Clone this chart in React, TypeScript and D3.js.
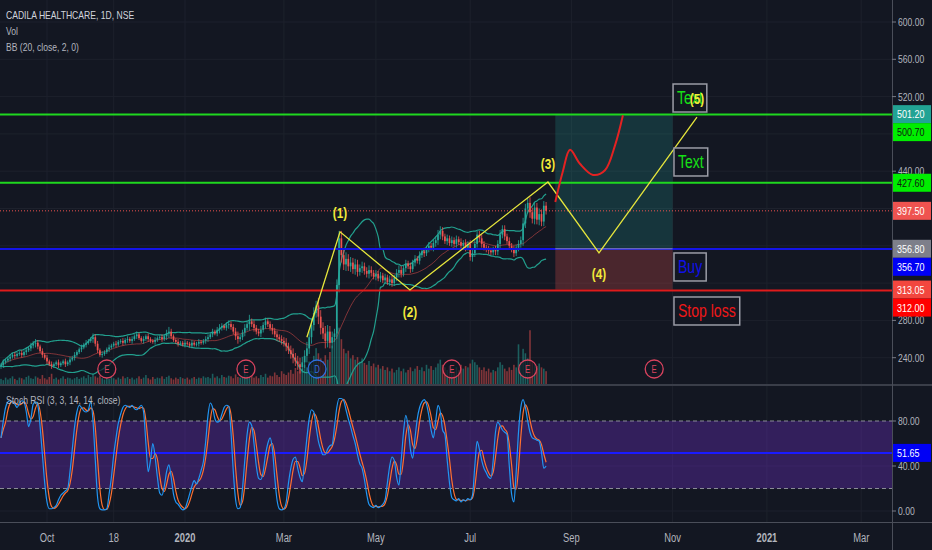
import { useEffect, useRef } from "react";
import * as d3 from "d3";

// daily closes, Sep 2019 – Aug 2020 (one per trading day)
const closes = [
  232, 235, 237, 239, 241, 243, 242, 244, 245, 243, 246, 248, 250, 253, 255, 256,
  252, 247, 243, 240, 236, 233, 231, 233, 235, 232, 234, 236, 233, 235, 238,
  240, 243, 246, 249, 251, 254, 256, 258, 260, 262, 255, 248, 243,
  244, 246, 249, 251, 253, 255, 254, 257, 258, 256, 259, 260, 258,
  260, 263, 265, 261, 258, 260, 263, 260, 258, 257, 259, 261, 262, 260, 263, 266, 268,
  263, 259, 257, 255, 256, 254, 256, 255, 253, 256, 254, 255, 257, 256, 258, 260,
  262, 265, 268, 266, 270, 272, 274, 272, 275, 276, 273, 268, 263, 260, 262, 267, 272, 276, 279,
  276, 272, 268, 266, 270, 275, 279, 276, 272, 269, 265, 262, 260, 258, 256,
  252, 248, 244, 240, 236, 233, 230, 235, 242, 250, 262, 275, 288, 296,
  284, 272, 266, 258, 268, 256, 262, 266, 318, 368,
  350, 340, 346, 338, 342, 335, 340, 332, 336, 338, 333, 330, 334, 331, 327, 330, 325, 328, 323, 326, 321, 324, 320, 326, 331, 334,
  330, 336, 341, 338, 335, 342, 346, 344, 350, 354, 352, 357, 360, 358, 363, 366, 372, 376,
  370, 365, 368, 363, 366, 362, 367, 364, 360, 363, 358, 362, 348, 352, 362, 372, 368,
  362, 358, 356, 355, 353, 356, 354, 362, 372, 378, 370, 365, 360, 356, 352, 358, 362, 366,
  384, 400, 406, 396, 389, 401, 388, 394, 386, 403, 397.5,
];
const firstOpen = 230;

// wick length beyond the body, per bar
const wicks = [
  2, 3, 2, 2, 3, 2, 3, 2, 2, 3, 2, 3, 2, 3, 3, 4,
  3, 2, 3, 2, 3, 2, 3, 2, 2, 3, 2, 2, 3, 2, 3,
  2, 3, 2, 2, 3, 2, 3, 2, 2, 4, 3, 3, 2,
  3, 2, 2, 3, 2, 2, 3, 2, 2, 3, 2, 3, 2,
  3, 2, 3, 2, 2, 3, 2, 3, 2, 2, 3, 2, 2, 3, 2, 4, 5,
  3, 2, 2, 3, 2, 2, 3, 2, 2, 3, 2, 2, 3, 2, 2, 3,
  3, 2, 3, 2, 3, 4, 3, 2, 3, 4, 3, 3, 4, 5, 3, 3, 4, 3, 7,
  3, 4, 3, 3, 4, 3, 4, 3, 3, 4, 3, 4, 3, 4, 4,
  5, 4, 5, 6, 5, 6, 7, 6, 6, 7, 6, 7, 6, 5,
  8, 7, 6, 8, 7, 6, 6, 5, 6, 8,
  8, 6, 7, 5, 6, 5, 6, 5, 4, 5, 4, 4, 5, 4, 3, 4, 3, 4, 3, 4, 3, 4, 4, 3, 4, 5,
  4, 3, 4, 3, 4, 3, 4, 3, 4, 3, 4, 3, 4, 3, 4, 4, 5, 5,
  4, 3, 4, 3, 4, 3, 4, 3, 4, 3, 4, 3, 4, 5, 4, 4, 4,
  4, 3, 3, 4, 3, 3, 4, 4, 5, 4, 4, 3, 4, 3, 4, 3, 4, 4,
  6, 5, 5, 6, 5, 6, 5, 6, 5, 5, 4,
];

const volumes = [
  8, 6, 10, 7, 9, 12, 8, 6, 10, 9, 7, 11, 13, 9, 8, 12,
  10, 8, 14, 9, 7, 11, 16, 8, 10, 7, 9, 12, 8, 10, 9,
  7, 9, 11, 8, 10, 12, 9, 14, 11, 16, 12, 10, 13,
  9, 7, 10, 8, 11, 9, 7, 10, 8, 12, 9, 11, 8,
  10, 7, 9, 12, 8, 10, 14, 9, 7, 11, 8, 10, 9, 12, 8, 11, 13,
  9, 7, 10, 8, 11, 9, 8, 10, 7, 9, 11, 8, 10, 9, 12, 10,
  11, 9, 16, 10, 12, 9, 14, 11, 10, 13, 12, 9, 15, 11, 10, 12, 19, 14, 11,
  13, 10, 12, 9, 14, 11, 16, 10, 13, 12, 18, 14, 11, 20, 16,
  14, 18, 22, 16, 25, 20, 28, 24, 30, 26, 35, 32, 44, 56,
  48, 40, 36, 45, 38, 50, 60, 72, 95, 88,
  70, 55, 48, 52, 40, 45, 38, 42, 35, 40, 33, 30, 36, 28, 32, 26, 30, 24, 28, 22, 26, 20, 24, 18, 22, 26,
  20, 24, 18, 22, 26, 20, 24, 28, 22, 26, 20, 30, 24, 28, 22, 26, 32, 38,
  30, 26, 22, 28, 24, 20, 26, 22, 30, 24, 28, 26, 32, 38, 34, 30, 26,
  22, 26, 20, 24, 18, 22, 20, 26, 34, 30, 24, 20, 26, 22, 30, 26, 62, 34,
  55, 48, 40, 84, 34, 30, 28, 32, 26, 24, 20,
];

// Stoch RSI %K
const stochK = [
  65, 80, 92, 97, 98, 97, 95, 92, 96, 98, 97,
  88, 75, 82, 95, 97, 94,
  75, 50, 25, 8, 2, 2, 3, 5,
  10, 14, 16, 18, 20, 35,
  55, 75, 88, 94, 92,
  89, 88, 90, 97,
  80, 45, 12, 2, 1, 1, 2,
  15, 30, 50, 65, 78, 86, 92, 94,
  93, 92, 94, 91, 90, 92, 94, 88,
  60, 35, 45, 60,
  48, 30, 16, 14, 22,
  35, 41,
  30, 15, 8, 6, 3, 1, 2,
  8, 15, 22, 27, 24, 29, 36, 44,
  62, 85, 96, 92,
  82, 79, 80, 86,
  92, 94, 93, 70, 35,
  10, 2, 3, 20,
  45, 68, 79, 76, 60,
  40, 29, 28, 35, 50, 60,
  65, 55, 30, 10,
  2, 1, 2, 8,
  25, 38, 46, 48,
  38, 30, 26,
  45, 65, 82, 90, 88, 75,
  62, 55, 50, 50,
  55, 58, 59,
  75, 92, 100, 100, 98,
  90, 82, 75, 67, 60, 50, 42,
  38, 28, 15, 6,
  4, 3, 5, 3, 4, 6, 10,
  25, 40, 48, 45, 30, 23,
  45, 70, 85,
  75, 55, 47,
  65, 82, 92, 97, 99,
  95, 85, 72, 65,
  80, 94, 88,
  72, 68, 45, 25, 12,
  10, 9, 11, 8, 10, 9, 11, 10, 14,
  40, 62, 55,
  45, 38, 34, 30, 29,
  45, 70, 79, 76,
  72, 70, 68,
  40, 15, 8,
  35, 70, 92, 99,
  92, 80, 70, 65,
  64, 63, 62,
  52, 38, 40,
];

const timeLabels = ["Oct", "18", "2020", "Mar", "May", "Jul", "Sep", "Nov", "2021", "Mar"];
const timeBars = [20, 49, 80, 123, 163, 204, 248, 292, 333, 374];
const priceTicks = [240, 280, 320, 360, 400, 440, 480, 520, 560, 600];
const rsiTicks = [0, 40, 80];

const lastPrice = 397.5;
const levelPrices = [500.7, 427.6, 356.7, 312.0];
const positionLevels = { target: 501.2, entry: 356.8, stop: 313.05 };
const positionBars = [241, 292];
const stochLevel = 51.65;

// elliott count drawn on the chart: [bar, price]
const wavePoints = [[133, 262], [147.4, 375], [177.8, 312.6], [237.8, 428.4], [260, 352.3], [302.6, 498]];
const waveLabels = ["(1)", "(2)", "(3)", "(4)", "(5)"];
const projection = [[241, 407], [244.3, 440], [247.4, 463], [251.7, 448], [257.4, 436], [262.6, 441], [267, 468], [270.4, 500]];

const noteTexts = ["Text", "Text", "Buy", "Stop loss"];
const noteBars = [292.2, 292.6, 292.6, 292.6];
const notePrices = [533.5, 464.9, 352.3, 305.1];

const eventBars = [46, 106.5, 137.4, 196, 229, 284];
const eventKinds = ["E", "E", "D", "E", "E", "E"];

const W = 932;
const H = 550;
const PW = 892;
const PANE_BOTTOM = 384;
const RSI_TOP = 386;
const RSI_BOTTOM = 522;
const SQ = 0.78; // screenshot is horizontally squeezed
const FONT = "'Liberation Sans', Arial, sans-serif";

const App = () => {
  const svgRef = useRef<SVGSVGElement | null>(null);

  useEffect(() => {
    const svg = d3.select(svgRef.current);
    svg.selectAll("*").remove();
    svg.attr("font-family", FONT);

    const x = d3.scaleLinear().domain([0, 387]).range([1, 1 + 387 * 2.3]);
    const y = d3.scaleLinear().domain([240, 600]).range([357.7, 22]);
    const yVol = d3.scaleLinear().domain([0, 100]).range([PANE_BOTTOM, PANE_BOTTOM - 64]);
    const yRsi = d3.scaleLinear().domain([0, 80]).range([511, 421]);

    svg.append("rect").attr("width", W).attr("height", H).attr("fill", "#131722");

    const defs = svg.append("defs");
    defs.append("clipPath").attr("id", "cp-price").append("rect").attr("width", PW).attr("height", PANE_BOTTOM);
    defs.append("clipPath").attr("id", "cp-rsi").append("rect")
      .attr("y", RSI_TOP).attr("width", PW).attr("height", RSI_BOTTOM - RSI_TOP);

    // grid
    const grid = svg.append("g").attr("stroke", "#1d212c").attr("stroke-width", 1);
    timeBars.forEach((b) => grid.append("line").attr("x1", x(b)).attr("x2", x(b)).attr("y1", 0).attr("y2", RSI_BOTTOM));
    priceTicks.forEach((p) => grid.append("line").attr("x1", 0).attr("x2", PW).attr("y1", y(p)).attr("y2", y(p)));
    rsiTicks.forEach((v) => grid.append("line").attr("x1", 0).attr("x2", PW).attr("y1", yRsi(v)).attr("y2", yRsi(v)));

    const bars = closes.map((c, i) => {
      const o = i === 0 ? firstOpen : closes[i - 1];
      return { i, o, c, h: Math.max(o, c) + wicks[i], l: Math.min(o, c) - wicks[i], v: volumes[i], up: c >= o };
    });

    const price = svg.append("g").attr("clip-path", "url(#cp-price)");

    // volume
    price.append("g").selectAll("rect").data(bars).join("rect")
      .attr("x", (d) => x(d.i) - 0.8)
      .attr("width", 1.6)
      .attr("y", (d) => yVol(d.v))
      .attr("height", (d) => yVol(0) - yVol(d.v))
      .attr("fill", (d) => (d.up ? "rgba(38,166,154,0.5)" : "rgba(239,83,80,0.5)"));

    // long position box
    const px0 = x(positionBars[0]);
    const pw = x(positionBars[1]) - px0;
    price.append("rect").attr("x", px0).attr("width", pw)
      .attr("y", y(positionLevels.target)).attr("height", y(positionLevels.entry) - y(positionLevels.target))
      .attr("fill", "rgba(38,166,154,0.22)");
    price.append("rect").attr("x", px0).attr("width", pw)
      .attr("y", y(positionLevels.entry)).attr("height", y(positionLevels.stop) - y(positionLevels.entry))
      .attr("fill", "rgba(239,83,80,0.25)");

    // bollinger bands (20, 2)
    const bb = closes.map((_, i) => {
      const win = closes.slice(Math.max(0, i - 19), i + 1);
      const m = d3.mean(win) as number;
      const sd = Math.sqrt(d3.mean(win, (v) => (v - m) * (v - m)) as number);
      return { i, m, up: m + 2 * sd, lo: m - 2 * sd };
    });
    const bbLine = (key: "m" | "up" | "lo") =>
      d3.line<any>().x((d) => x(d.i)).y((d) => y(d[key])).curve(d3.curveMonotoneX)(bb);
    price.append("path").attr("d", bbLine("m")).attr("fill", "none").attr("stroke", "rgba(200,70,70,0.6)").attr("stroke-width", 1);
    price.append("path").attr("d", bbLine("up")).attr("fill", "none").attr("stroke", "#22a08e").attr("stroke-width", 1.2);
    price.append("path").attr("d", bbLine("lo")).attr("fill", "none").attr("stroke", "#22a08e").attr("stroke-width", 1.2);

    // candles
    const cg = price.append("g");
    cg.selectAll("line").data(bars).join("line")
      .attr("x1", (d) => x(d.i)).attr("x2", (d) => x(d.i))
      .attr("y1", (d) => y(d.h)).attr("y2", (d) => y(d.l))
      .attr("stroke", (d) => (d.up ? "#26a69a" : "#ef5350")).attr("stroke-width", 0.8);
    cg.selectAll("rect").data(bars).join("rect")
      .attr("x", (d) => x(d.i) - 0.85).attr("width", 1.7)
      .attr("y", (d) => y(Math.max(d.o, d.c)))
      .attr("height", (d) => Math.max(0.8, Math.abs(y(d.o) - y(d.c))))
      .attr("fill", (d) => (d.up ? "#26a69a" : "#ef5350"));

    // horizontal levels
    const levelColors = ["#1fd81f", "#1fd81f", "#1414e6", "#e01b1b"];
    levelPrices.forEach((p, k) =>
      price.append("line").attr("x1", 0).attr("x2", PW).attr("y1", y(p)).attr("y2", y(p))
        .attr("stroke", levelColors[k]).attr("stroke-width", 2));
    price.append("line").attr("x1", px0).attr("x2", px0 + pw)
      .attr("y1", y(positionLevels.entry)).attr("y2", y(positionLevels.entry))
      .attr("stroke", "#8a86a8").attr("stroke-width", 1);
    price.append("line").attr("x1", 0).attr("x2", PW).attr("y1", y(lastPrice)).attr("y2", y(lastPrice))
      .attr("stroke", "#ef5350").attr("stroke-width", 1).attr("stroke-dasharray", "1,2");

    // wave count
    const lineXY = d3.line<number[]>().x((d) => x(d[0])).y((d) => y(d[1]));
    price.append("path").attr("d", lineXY(wavePoints)).attr("fill", "none")
      .attr("stroke", "#e6e63c").attr("stroke-width", 1.3);

    // projected path
    price.append("path").attr("d", lineXY.curve(d3.curveCatmullRom)(projection)).attr("fill", "none")
      .attr("stroke", "#e32222").attr("stroke-width", 2);

    // text notes
    const noteColors = ["#16e016", "#16e016", "#1010e8", "#f01818"];
    noteTexts.forEach((t, k) => {
      const bx = x(noteBars[k]);
      const by = y(notePrices[k]);
      const g = price.append("g");
      const r = g.append("rect").attr("x", bx).attr("y", by).attr("height", 28)
        .attr("fill", "#131722").attr("stroke", "#9a9ca6").attr("stroke-width", 1.5);
      const tx = g.append("text").attr("x", bx + 4).attr("y", by + 14).attr("dominant-baseline", "central")
        .attr("font-size", 18).attr("fill", noteColors[k]).text(t);
      const len = (tx.node() as SVGTextElement).getComputedTextLength() * SQ;
      r.attr("width", len + 8);
    });

    // wave labels
    waveLabels.forEach((lab, k) => {
      const p = wavePoints[k + 1];
      price.append("text").attr("x", x(p[0])).attr("y", y(p[1]) + (k % 2 === 0 ? -19 : 21))
        .attr("text-anchor", "middle").attr("dominant-baseline", "central")
        .attr("font-size", 15).attr("font-weight", 700).attr("fill", "#f2ea3a").text(lab);
    });

    // events (earnings / dividend)
    eventBars.forEach((b, k) => {
      const col = eventKinds[k] === "D" ? "#2f6fe0" : "#d9435e";
      const g = svg.append("g").attr("transform", `translate(${x(b)},369)`);
      g.append("circle").attr("r", 9).attr("fill", "#131722").attr("fill-opacity", 0.7)
        .attr("stroke", col).attr("stroke-width", 1.3);
      g.append("text").attr("text-anchor", "middle").attr("dominant-baseline", "central")
        .attr("font-size", 10).attr("fill", col).text(eventKinds[k]);
    });

    // ---- Stoch RSI pane
    const rsi = svg.append("g").attr("clip-path", "url(#cp-rsi)");
    rsi.append("rect").attr("x", 0).attr("width", PW).attr("y", yRsi(80)).attr("height", yRsi(20) - yRsi(80))
      .attr("fill", "rgba(126,50,230,0.3)");
    [80, 20].forEach((v) =>
      rsi.append("line").attr("x1", 0).attr("x2", PW).attr("y1", yRsi(v)).attr("y2", yRsi(v))
        .attr("stroke", "#8a8c96").attr("stroke-dasharray", "4,3"));
    rsi.append("line").attr("x1", 0).attr("x2", PW).attr("y1", yRsi(stochLevel)).attr("y2", yRsi(stochLevel))
      .attr("stroke", "#1a1aff").attr("stroke-width", 2);
    const stochD = stochK.map((_, i) => d3.mean(stochK.slice(Math.max(0, i - 2), i + 1)) as number);
    const rsiLine = d3.line<number>().x((_, i) => x(i)).y((d) => yRsi(d)).curve(d3.curveMonotoneX);
    rsi.append("path").attr("d", rsiLine(stochD)).attr("fill", "none").attr("stroke", "#ff7030").attr("stroke-width", 1.2);
    rsi.append("path").attr("d", rsiLine(stochK)).attr("fill", "none").attr("stroke", "#2196f3").attr("stroke-width", 1.2);
    svg.append("text").attr("x", 6).attr("y", 404).attr("font-size", 11).attr("fill", "#b2b5be")
      .text("Stoch RSI (3, 3, 14, 14, close)");

    // separators
    svg.append("line").attr("x1", 0).attr("x2", W).attr("y1", 385).attr("y2", 385).attr("stroke", "#3a3e49").attr("stroke-width", 2);
    svg.append("line").attr("x1", 0).attr("x2", W).attr("y1", RSI_BOTTOM + 0.5).attr("y2", RSI_BOTTOM + 0.5).attr("stroke", "#4a4e59");
    svg.append("line").attr("x1", PW + 0.5).attr("x2", PW + 0.5).attr("y1", 0).attr("y2", H).attr("stroke", "#4a4e59");

    // price badges, stacked when they overlap
    const badges = [
      { v: positionLevels.target, bg: "#22a394", fg: "#fff", scale: y },
      { v: levelPrices[0], bg: "#00ee00", fg: "#102010", scale: y },
      { v: levelPrices[1], bg: "#00ee00", fg: "#102010", scale: y },
      { v: lastPrice, bg: "#ef5350", fg: "#fff", scale: y },
      { v: positionLevels.entry, bg: "#7d7f8a", fg: "#fff", scale: y },
      { v: levelPrices[2], bg: "#0000f5", fg: "#fff", scale: y },
      { v: positionLevels.stop, bg: "#f2463e", fg: "#fff", scale: y },
      { v: levelPrices[3], bg: "#ff0000", fg: "#fff", scale: y },
      { v: stochLevel, bg: "#0000f5", fg: "#fff", scale: yRsi },
    ];
    let lastY = -100;
    const badgeY: number[] = [];
    badges.forEach((b) => {
      let cy = b.scale(b.v);
      if (b.scale === y) {
        if (cy < lastY + 18) cy = lastY + 18;
        lastY = cy;
        badgeY.push(cy);
      }
      (b as any).cy = cy;
    });

    // price axis (ticks hidden under a badge are skipped)
    const axisText = "#b2b5be";
    priceTicks
      .filter((p) => y(p) > 8 && y(p) < 375)
      .filter((p) => badgeY.every((by) => Math.abs(by - y(p)) > 7))
      .forEach((p) => {
        svg.append("line").attr("x1", PW).attr("x2", PW + 4).attr("y1", y(p)).attr("y2", y(p)).attr("stroke", "#787b86");
        svg.append("text").attr("x", PW + 6).attr("y", y(p) + 4).attr("font-size", 11).attr("fill", axisText).text(p.toFixed(2));
      });
    rsiTicks.forEach((v) => {
      svg.append("line").attr("x1", PW).attr("x2", PW + 4).attr("y1", yRsi(v)).attr("y2", yRsi(v)).attr("stroke", "#787b86");
      svg.append("text").attr("x", PW + 6).attr("y", yRsi(v) + 4).attr("font-size", 11).attr("fill", axisText).text(v.toFixed(2));
    });

    badges.forEach((b: any) => {
      svg.append("rect").attr("x", PW + 1).attr("y", b.cy - 9).attr("width", 38).attr("height", 18).attr("fill", b.bg);
      svg.append("text").attr("x", PW + 5).attr("y", b.cy + 4).attr("font-size", 11.5).attr("fill", b.fg).text(b.v.toFixed(2));
    });

    // time axis
    timeLabels.forEach((t, k) =>
      svg.append("text").attr("x", x(timeBars[k])).attr("y", 542).attr("text-anchor", "middle")
        .attr("font-size", 12).attr("font-weight", t.length === 4 ? 700 : 400).attr("fill", axisText).text(t));

    // legend
    svg.append("text").attr("x", 6).attr("y", 19).attr("font-size", 11).attr("fill", "#d1d4dc").text("CADILA HEALTHCARE, 1D, NSE");
    svg.append("text").attr("x", 6).attr("y", 35).attr("font-size", 11).attr("fill", "#b2b5be").text("Vol");
    svg.append("text").attr("x", 6).attr("y", 51).attr("font-size", 11).attr("fill", "#b2b5be").text("BB (20, close, 2, 0)");

    // narrow all text like the squeezed screenshot
    svg.selectAll<SVGTextElement, unknown>("text").each(function () {
      const len = this.getComputedTextLength();
      if (len > 0) {
        this.setAttribute("textLength", String(len * SQ));
        this.setAttribute("lengthAdjust", "spacingAndGlyphs");
      }
    });
  }, []);

  return (
    <svg
      ref={svgRef}
      width={W}
      height={H}
      style={{ position: "absolute", left: 0, top: 0, display: "block" }}
    ></svg>
  );
};

export default App;
